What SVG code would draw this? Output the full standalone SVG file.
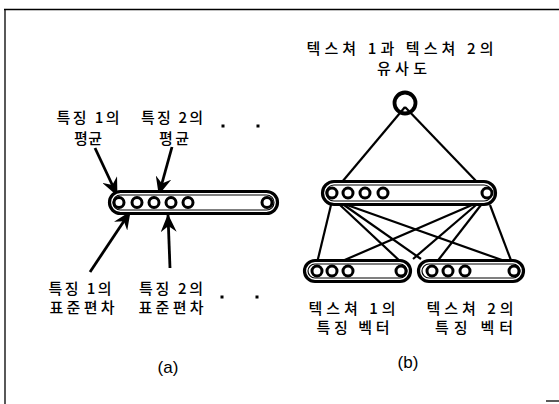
<svg xmlns="http://www.w3.org/2000/svg" width="559" height="404" viewBox="0 0 559 404">
<defs>
<style>
.t{font-family:"Noto Sans CJK KR","Noto Sans",sans-serif;font-size:15px;font-weight:500;fill:#000;text-anchor:middle}
.l{font-family:"Liberation Sans",Arial,sans-serif;font-size:17px;fill:#000;text-anchor:middle}
.cap{fill:#fff;stroke:#000;stroke-width:3.2}
.capi{fill:none;stroke:#000;stroke-width:1.2}
.ring{fill:#fff;stroke:#000;stroke-width:3}
.ln{stroke:#000;stroke-width:2.2;fill:none}
.ar{stroke:#000;stroke-width:2.8;fill:none;marker-end:url(#ah)}
.fr{stroke:#000;stroke-width:1.3;fill:none}
</style>
<marker id="ah" viewBox="0 0 18 16" refX="17" refY="8" markerWidth="18" markerHeight="16" markerUnits="userSpaceOnUse" orient="auto">
<path d="M0,0 L18,8 L0,16 L6,8 z" fill="#000"/>
</marker>
</defs>
<rect width="559" height="404" fill="#fff"/>
<g id="frame">
<path class="fr" d="M4,9.5 H559 M5,9 V404"/>
<path class="fr" d="M546,401 H559"/>
</g>

<g id="connectors">
<line class="ar" x1="95" y1="148" x2="117" y2="195"/>
<line class="ar" x1="172" y1="147" x2="159" y2="194"/>
<line class="ar" x1="90" y1="272" x2="130" y2="212"/>
<line class="ar" x1="170" y1="268" x2="168" y2="215"/>
<line class="ln" x1="405" y1="107" x2="342" y2="182"/>
<line class="ln" x1="405" y1="107" x2="477" y2="182"/>
<line class="ln" x1="331" y1="205" x2="317" y2="263"/>
<line class="ln" x1="340" y1="205" x2="402" y2="263"/>
<line class="ln" x1="344" y1="205" x2="421" y2="259"/>
<line class="ln" x1="347" y1="205" x2="513" y2="264"/>
<line class="ln" x1="472" y1="205" x2="340" y2="262"/>
<line class="ln" x1="476" y1="205" x2="413" y2="259"/>
<line class="ln" x1="481" y1="205" x2="436" y2="263"/>
<line class="ln" x1="490" y1="205" x2="512" y2="263"/>
</g>

<g id="vector-a">
<rect class="cap" x="109.5" y="191.5" width="168" height="22" rx="11"/>
<rect class="capi" x="113" y="195" width="161" height="15" rx="7.5"/>
<circle class="ring" cx="119" cy="202.5" r="5"/>
<circle class="ring" cx="137" cy="202.5" r="5"/>
<circle class="ring" cx="154" cy="202.5" r="5"/>
<circle class="ring" cx="171" cy="202.5" r="5"/>
<circle class="ring" cx="188" cy="202.5" r="5"/>
<circle class="ring" cx="267" cy="202.5" r="5"/>
</g>

<g id="similarity-node">
<circle cx="405" cy="103" r="10.5" fill="none" stroke="#000" stroke-width="3.8"/>
</g>

<g id="combined-vector">
<rect class="cap" x="322.5" y="181.5" width="173" height="23" rx="11.5"/>
<rect class="capi" x="326" y="185" width="166" height="16" rx="8"/>
<circle class="ring" cx="332" cy="193" r="5"/>
<circle class="ring" cx="348" cy="193" r="5"/>
<circle class="ring" cx="365" cy="193" r="5"/>
<circle class="ring" cx="383" cy="193" r="5"/>
<circle class="ring" cx="487" cy="193" r="5"/>
</g>

<g id="texture1-vector">
<rect class="cap" x="304.5" y="260.5" width="106" height="21" rx="10.5"/>
<rect class="capi" x="308" y="264" width="99" height="14" rx="7"/>
<circle class="ring" cx="317" cy="271" r="5"/>
<circle class="ring" cx="332" cy="271" r="5"/>
<circle class="ring" cx="348" cy="271" r="5"/>
<circle class="ring" cx="401" cy="271" r="5"/>
</g>

<g id="texture2-vector">
<rect class="cap" x="418.5" y="260.5" width="105" height="21" rx="10.5"/>
<rect class="capi" x="422" y="264" width="98" height="14" rx="7"/>
<circle class="ring" cx="432" cy="271" r="5"/>
<circle class="ring" cx="448" cy="271" r="5"/>
<circle class="ring" cx="465" cy="271" r="5"/>
<circle class="ring" cx="514" cy="271" r="5"/>
</g>

<g id="labels-a">
<text class="t" x="88" y="123" textLength="63" lengthAdjust="spacing">특징 1의</text>
<text class="t" x="88" y="144" textLength="28" lengthAdjust="spacing">평균</text>
<text class="t" x="172" y="123" textLength="62" lengthAdjust="spacing">특징 2의</text>
<text class="t" x="174" y="144" textLength="30" lengthAdjust="spacing">평균</text>
<text class="t" x="80" y="294" textLength="63" lengthAdjust="spacing">특징 1의</text>
<text class="t" x="82" y="313" textLength="65" lengthAdjust="spacing">표준편차</text>
<text class="t" x="171" y="294" textLength="64" lengthAdjust="spacing">특징 2의</text>
<text class="t" x="171" y="313" textLength="65" lengthAdjust="spacing">표준편차</text>
<rect x="221.5" y="124.5" width="3" height="3" fill="#000"/>
<rect x="256.5" y="124.5" width="3" height="3" fill="#000"/>
<rect x="220.5" y="295.5" width="3" height="3" fill="#000"/>
<rect x="255.5" y="295.5" width="3" height="3" fill="#000"/>
<text class="l" x="168" y="373">(a)</text>
</g>

<g id="labels-b">
<text class="t" x="400" y="54" textLength="187" lengthAdjust="spacing">텍스쳐 1과 텍스쳐 2의</text>
<text class="t" x="402" y="74" textLength="50" lengthAdjust="spacing">유사도</text>
<text class="t" x="352" y="314" textLength="87" lengthAdjust="spacing">텍스쳐 1의</text>
<text class="t" x="353" y="333" textLength="73" lengthAdjust="spacing">특징 벡터</text>
<text class="t" x="470" y="314" textLength="87" lengthAdjust="spacing">텍스쳐 2의</text>
<text class="t" x="474" y="333" textLength="78" lengthAdjust="spacing">특징 벡터</text>
<text class="l" x="408" y="368">(b)</text>
</g>
</svg>
